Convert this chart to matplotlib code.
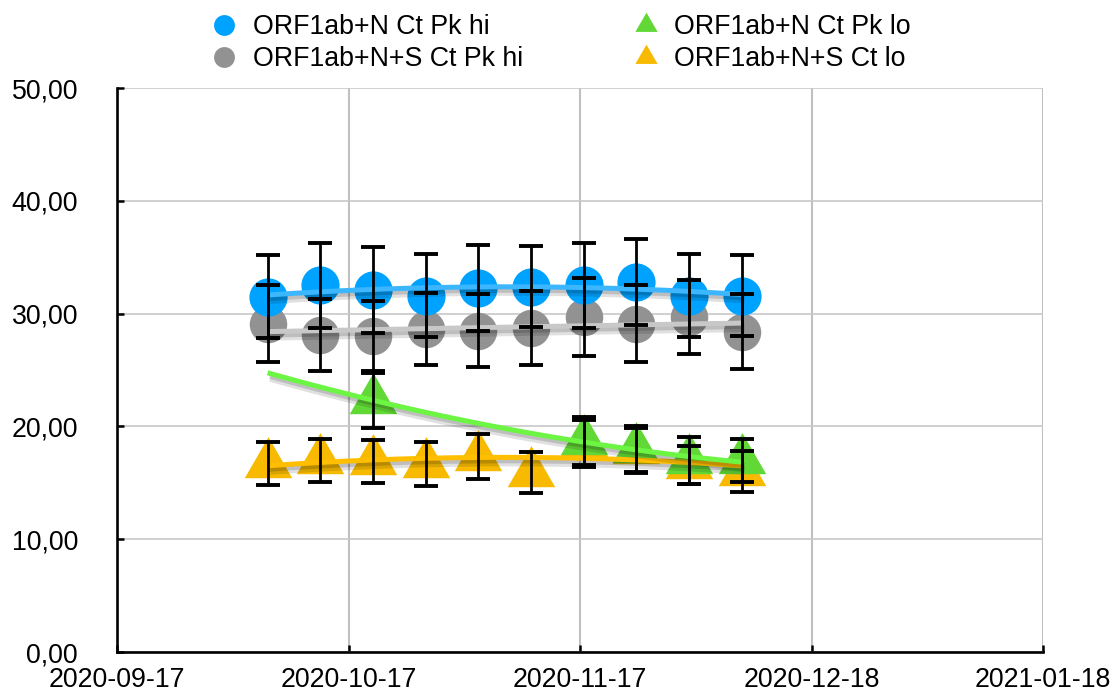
import numpy as np
import matplotlib
matplotlib.use("Agg")
import matplotlib.pyplot as plt
import matplotlib.dates as mdates
import matplotlib.patheffects as pe
from matplotlib.lines import Line2D

plt.rcParams['font.family'] = ['Liberation Sans', 'DejaVu Sans']

# weekly sample dates
dates = ["2020-10-07", "2020-10-14", "2020-10-21", "2020-10-28", "2020-11-04",
         "2020-11-11", "2020-11-18", "2020-11-25", "2020-12-02", "2020-12-09"]

n_hi = [31.5, 32.5, 32.1, 31.6, 32.3, 32.4, 32.5, 32.8, 31.6, 31.6]
n_hi_err = [3.7, 3.8, 3.8, 3.7, 3.8, 3.6, 3.8, 3.8, 3.7, 3.6]

ns_hi = [29.1, 28.1, 28.0, 28.6, 28.5, 28.7, 29.7, 29.1, 29.7, 28.4]
ns_hi_err = [3.4, 3.2, 3.1, 3.2, 3.2, 3.3, 3.45, 3.4, 3.3, 3.3]

n_lo = [np.nan, np.nan, 22.3, np.nan, np.nan, np.nan, 18.7, 18.0, 17.0, 17.0]
n_lo_err = [np.nan, np.nan, 2.4, np.nan, np.nan, np.nan, 2.1, 2.0, 2.1, 1.9]

ns_lo = [16.7, 17.0, 16.9, 16.7, 17.3, 15.9, 18.5, 17.9, 16.6, 16.0]
ns_lo_err = [1.9, 1.9, 1.9, 1.95, 2.0, 1.8, 2.1, 2.0, 1.7, 1.85]

labels = ["ORF1ab+N Ct Pk hi", "ORF1ab+N+S Ct Pk hi", "ORF1ab+N Ct Pk lo", "ORF1ab+N+S Ct lo"]
xtick_labels = ["2020-09-17", "2020-10-17", "2020-11-17", "2020-12-18", "2021-01-18"]

c_blue, c_gray, c_green, c_orange = "#00a2ff", "#929292", "#61d836", "#f8ba00"
t_blue, t_gray, t_green, t_orange = "#3cb6ff", "#c8c8c8", "#6cf542", "#ffbf00"

# triangle with its centroid at the origin (how Numbers places it)
tri = [(0, 1), (-0.866, -0.5), (0.866, -0.5), (0, 1)]

x = mdates.date2num(np.array(dates, dtype="datetime64[D]"))

fig = plt.figure(figsize=(11.15, 6.95), dpi=100)
ax = fig.add_axes([117 / 1115, 1 - 652 / 695, 926 / 1115, 564 / 695])

series = [
    (ns_lo, ns_lo_err, c_orange, t_orange, tri, 39.5, 2.0),
    (n_lo, n_lo_err, c_green, t_green, tri, 39.5, 2.1),
    (ns_hi, ns_hi_err, c_gray, t_gray, "o", 27, 2.2),
    (n_hi, n_hi_err, c_blue, t_blue, "o", 27.5, 2.3),
]

shadow = [pe.SimpleLineShadow(offset=(2, -3.5), shadow_color="black", alpha=0.12, linewidth=6),
          pe.SimpleLineShadow(offset=(1.5, -2.5), shadow_color="black", alpha=0.15),
          pe.Normal()]

xs = np.linspace(x[0], x[-1], 200)
for vals, err, col, tcol, mk, ms, z in series:
    v = np.array(vals)
    e = np.array(err)
    ax.plot(x, v, linestyle="none", marker=mk, ms=ms, color=col,
            markeredgewidth=0, zorder=z)
    ok = ~np.isnan(v)
    coef = np.polyfit(x[ok] - x[0], v[ok], 2)
    ax.plot(xs, np.polyval(coef, xs - x[0]), color=tcol, lw=3.6,
            solid_capstyle="butt", zorder=4, path_effects=shadow)
    ax.errorbar(x[ok], v[ok], yerr=e[ok], fmt="none", ecolor="black",
                elinewidth=2.0, capsize=8.5, capthick=2.8, zorder=5)

xmin = mdates.date2num(np.datetime64("2020-09-17"))
xmax = mdates.date2num(np.datetime64("2021-01-18"))
ax.set_xlim(xmin, xmax)
ax.set_ylim(0, 50)
ax.set_xticks(np.linspace(xmin, xmax, 5), xtick_labels)
ax.set_yticks(np.arange(0, 51, 10))
ax.yaxis.set_major_formatter(plt.FuncFormatter(lambda v, p: f"{v:.2f}".replace(".", ",")))

ax.grid(axis="x", color="#c0c0c0", lw=1.5)
ax.grid(axis="y", color="#c8c8c8", lw=1.2)
ax.set_axisbelow(True)
for s in ["top", "right"]:
    ax.spines[s].set_visible(False)
for s in ["left", "bottom"]:
    ax.spines[s].set_linewidth(1.9)
    ax.spines[s].set_zorder(6)

ax.tick_params(direction="in", length=5, width=1.8, color="black", labelsize=19.3)
ax.tick_params(axis="y", pad=28)
ax.tick_params(axis="x", pad=11)

handles = [
    Line2D([], [], linestyle="none", marker="o", ms=15, color=c_blue, markeredgewidth=0),
    Line2D([], [], linestyle="none", marker="o", ms=15, color=c_gray, markeredgewidth=0),
    Line2D([], [], linestyle="none", marker=tri, ms=18.5, color=c_green, markeredgewidth=0),
    Line2D([], [], linestyle="none", marker=tri, ms=18.5, color=c_orange, markeredgewidth=0),
]
fig.legend(handles, labels, ncol=2, loc="center", bbox_to_anchor=(0.503, 0.9375),
           frameon=False, fontsize=19.3, handlelength=1.0, handletextpad=0.55,
           columnspacing=4.1, labelspacing=0.22)

fig.savefig("out.png", dpi=100)
